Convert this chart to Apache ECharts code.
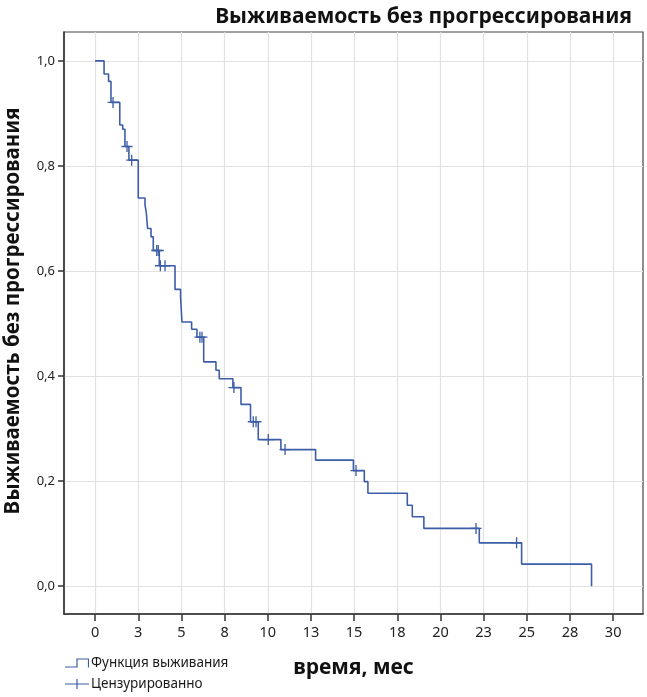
<!DOCTYPE html>
<html>
<head>
<meta charset="utf-8">
<script src="https://cdn.jsdelivr.net/npm/echarts@6/dist/echarts.min.js"></script>
<style>
html,body{margin:0;padding:0;background:#fff;}
#chart{width:647px;height:697px;}
</style>
</head>
<body>
<div id="chart"></div>
<script>
// Kaplan–Meier step points: [time (months), survival after event]
const eventTimes = [0, 0.52, 0.78, 0.92, 1.43, 1.60, 1.73, 1.96, 2.50, 2.89, 2.97, 3.04, 3.24, 3.37, 3.72, 4.63, 4.95, 5.03, 5.59, 5.90, 6.29, 7.00, 7.19, 7.98, 8.45, 9.00, 9.45, 10.76, 12.77, 14.96, 15.59, 15.80, 18.08, 18.37, 19.04, 22.25, 24.70, 28.75];
const survival   = [1.0, 0.975, 0.961, 0.921, 0.878, 0.870, 0.837, 0.811, 0.739, 0.726, 0.710, 0.681, 0.665, 0.639, 0.610, 0.565, 0.551, 0.503, 0.489, 0.474, 0.427, 0.411, 0.395, 0.378, 0.346, 0.313, 0.279, 0.260, 0.240, 0.220, 0.199, 0.177, 0.154, 0.132, 0.110, 0.0825, 0.042, 0.0];
// Censored observations
const censorTimes = [1.04, 1.85, 2.12, 3.57, 3.66, 3.78, 4.05, 6.07, 6.19, 8.04, 9.16, 9.32, 10.03, 11.0, 15.11, 22.06, 24.41];
const censorSurv  = [0.921, 0.837, 0.811, 0.639, 0.639, 0.610, 0.610, 0.474, 0.474, 0.378, 0.313, 0.313, 0.279, 0.260, 0.220, 0.110, 0.0825];
// Axis ticks
const xTicks = [0, 2.5, 5, 7.5, 10, 12.5, 15, 17.5, 20, 22.5, 25, 27.5, 30];
const yTicks = [0, 0.2, 0.4, 0.6, 0.8, 1.0];

const titleText = 'Выживаемость без прогрессирования';
const yName = 'Выживаемость без прогрессирования';
const xName = 'время, мес';
const seriesNames = ['Функция выживания', 'Цензурированно'];

const lineColor = '#3d5ea6';
const plusPath = 'path://M4.4,0 H5.6 V4.4 H10 V5.6 H5.6 V10 H4.4 V5.6 H0 V4.4 H4.4 Z';
const legendPlusPath = 'path://M0,4.4 H24 V5.6 H0 Z M11.4,0 H12.6 V10 H11.4 Z';
const stepPath = 'path://M0,9 H11.4 V1 H24 V10 H22.9 V2 H12.6 V10 H0 Z';

const kmData = eventTimes.map((t, i) => [t, survival[i]]);
const censData = censorTimes.map((t, i) => [t, censorSurv[i]]);

const chart = echarts.init(document.getElementById('chart'), null, {renderer: 'canvas'});
const font = 'Noto Sans';
const legendBase = {
  orient: 'horizontal', left: 65, padding: 0,
  itemWidth: 24, itemHeight: 11, itemGap: 4,
  textStyle: {fontFamily: font, fontSize: 13.5, color: '#1a1a1a', padding: [0, 0, 0, -3]}
};
chart.setOption({
  animation: false,
  backgroundColor: '#fff',
  title: {
    text: titleText,
    right: 10, top: 2,
    textStyle: {fontFamily: font, fontWeight: 'bold', fontSize: 21, color: '#111'}
  },
  legend: [
    Object.assign({}, legendBase, {top: 656, data: [{name: seriesNames[0], icon: stepPath}]}),
    Object.assign({}, legendBase, {top: 677, data: [{name: seriesNames[1], icon: legendPlusPath}]})
  ],
  grid: {
    left: 64, top: 32, right: 4, bottom: 83,
    containLabel: false,
    outerBoundsMode: 'none',
    show: true, borderColor: '#444', borderWidth: 1.2
  },
  xAxis: {
    type: 'value',
    min: -1.8, max: 31.73,
    name: xName, nameLocation: 'middle', nameGap: 44,
    nameTextStyle: {fontFamily: font, fontWeight: 'bold', fontSize: 21, color: '#111'},
    axisLine: {show: true, onZero: false, lineStyle: {color: '#333', width: 1.5}},
    axisTick: {show: true, customValues: xTicks, length: 7, lineStyle: {color: '#333', width: 1.5}},
    axisLabel: {customValues: xTicks, margin: 11, fontFamily: font, fontSize: 14.5, color: '#222',
      formatter: v => String(Math.round(v))},
    splitLine: {show: true, lineStyle: {color: '#e2e2e2', width: 1.2}}
  },
  yAxis: {
    type: 'value',
    min: -0.053, max: 1.055,
    name: yName, nameLocation: 'middle', nameGap: 40,
    nameTextStyle: {fontFamily: font, fontWeight: 'bold', fontSize: 20.5, color: '#111', padding: [0, 0, 0, 24]},
    axisLine: {show: true, onZero: false, lineStyle: {color: '#333', width: 1.5}},
    axisTick: {show: true, customValues: yTicks, length: 6, lineStyle: {color: '#333', width: 1.5}},
    axisLabel: {customValues: yTicks, margin: 9, fontFamily: font, fontSize: 13, color: '#222',
      formatter: v => v.toFixed(1).replace('.', ',')},
    splitLine: {show: true, lineStyle: {color: '#e2e2e2', width: 1.2}}
  },
  series: [
    {
      name: seriesNames[0],
      type: 'line',
      step: 'end',
      data: kmData,
      showSymbol: false,
      symbol: 'none',
      lineStyle: {color: lineColor, width: 1.6},
      itemStyle: {color: lineColor}
    },
    {
      name: seriesNames[1],
      type: 'scatter',
      data: censData,
      symbol: plusPath,
      symbolSize: 11,
      itemStyle: {color: lineColor, opacity: 1}
    }
  ]
});
</script>
</body>
</html>
